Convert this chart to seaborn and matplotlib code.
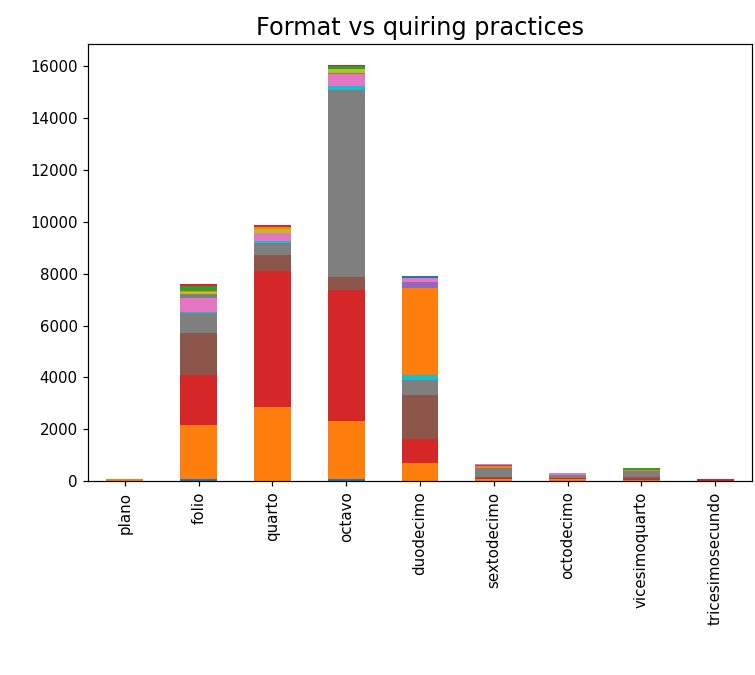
import pandas as pd
import matplotlib
matplotlib.use("Agg")
import matplotlib.pyplot as plt
import seaborn as sns

sns.set_style("ticks", {"axes.edgecolor": "black", "text.color": "black",
                        "xtick.color": "black", "ytick.color": "black",
                        "axes.labelcolor": "black"})
sns.set_palette("tab10")

# formats on the x axis
formats = ["plano", "folio", "quarto", "octavo", "duodecimo",
           "sextodecimo", "octodecimo", "vicesimoquarto", "tricesimosecundo"]

# quiring patterns (leaves per gathering), stacked in this order
quirings = ["1", "2", "3", "4", "5", "6", "7", "8", "9", "10", "11", "12",
            "13", "14", "15", "16", "17", "18", "19", "20", "21", "22", "23", "24"]

# counts per format, one value per quiring
plano            = [0, 90, 0, 0, 0, 0, 0, 0, 0, 0, 0, 0,
                    0, 0, 0, 0, 0, 0, 0, 0, 0, 0, 0, 0]
folio            = [80, 2080, 0, 1920, 0, 1615, 0, 770, 0, 75, 0, 0,
                    0, 0, 0, 0, 525, 150, 75, 0, 0, 50, 200, 65]
quarto           = [0, 2860, 0, 5257, 0, 603, 0, 450, 0, 77, 0, 0,
                    0, 0, 0, 0, 320, 0, 150, 0, 0, 90, 0, 65]
octavo           = [80, 2240, 0, 5050, 0, 500, 0, 7230, 0, 150, 0, 0,
                    0, 0, 0, 0, 460, 40, 150, 0, 0, 0, 100, 60]
duodecimo        = [0, 700, 0, 935, 0, 1690, 0, 590, 0, 167, 0, 3385,
                    0, 0, 218, 0, 140, 0, 0, 0, 90, 0, 0, 0]
sextodecimo      = [0, 60, 0, 60, 0, 30, 0, 360, 0, 0, 0, 80,
                    0, 0, 0, 30, 20, 0, 0, 0, 0, 0, 0, 0]
octodecimo       = [0, 80, 0, 30, 0, 0, 0, 130, 0, 0, 0, 0,
                    0, 0, 0, 0, 60, 0, 0, 0, 0, 0, 0, 0]
vicesimoquarto   = [0, 30, 0, 60, 0, 60, 0, 240, 0, 0, 0, 50,
                    0, 0, 0, 0, 0, 0, 0, 0, 0, 0, 80, 0]
tricesimosecundo = [0, 0, 0, 70, 0, 0, 0, 0, 0, 0, 0, 0,
                    0, 0, 0, 0, 0, 0, 0, 0, 0, 0, 0, 0]

df = pd.DataFrame([plano, folio, quarto, octavo, duodecimo,
                   sextodecimo, octodecimo, vicesimoquarto, tricesimosecundo],
                  index=formats, columns=quirings)

fig, ax = plt.subplots(figsize=(755 / 108, 675 / 108), dpi=108)
df.plot.bar(stacked=True, ax=ax, legend=False, linewidth=0)
ax.set_title("Format vs quiring practices", fontsize=16)

fig.subplots_adjust(left=0.1166, right=0.996, bottom=0.2874, top=0.9348)
fig.savefig("out.png", dpi=108)
